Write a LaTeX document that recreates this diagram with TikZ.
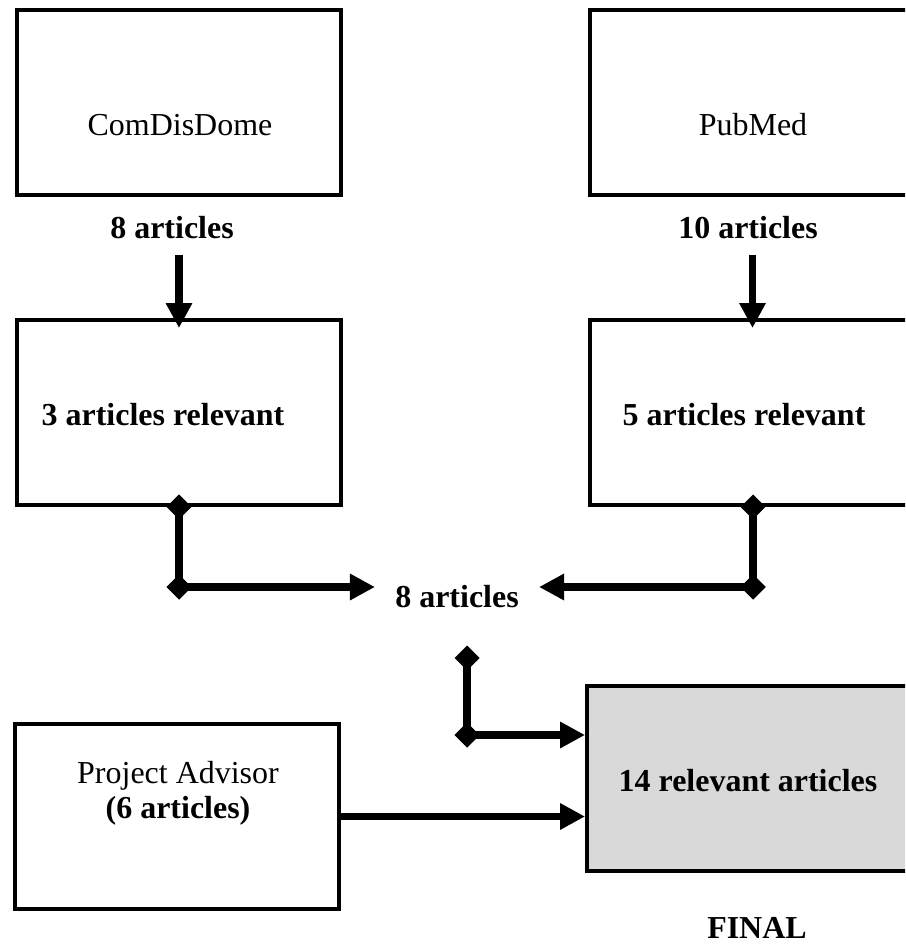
\documentclass[tikz,border=0pt]{standalone}
\usepackage{fontspec}
\setmainfont{Liberation Serif}
\usepackage{tikz}
\usetikzlibrary{arrows.meta}
\definecolor{finalgray}{HTML}{D9D9D9}
\tikzset{
	boxstyle/.style={rectangle,draw=black,line width=0.08cm,fill=white,minimum width=6.48cm,minimum height=3.7cm},
	finalstyle/.style={boxstyle,fill=finalgray,minimum width=6.56cm},
	textstyle/.style={inner sep=0pt,font=\fontsize{18.2}{20}\selectfont},
	boldstyle/.style={inner sep=0pt,font=\fontsize{18.2}{20}\selectfont\bfseries},
	linkstyle/.style={line width=0.155cm,-{Triangle[length=0.5cm,width=0.5cm]}},
	jointstyle/.style={line width=0.155cm,{Diamond[length=0.5cm,width=0.5cm]}-{Diamond[length=0.5cm,width=0.5cm]},shorten <=-0.25cm,shorten >=-0.25cm},
	jointlinkstyle/.style={line width=0.155cm,{Diamond[length=0.5cm,width=0.5cm]}-{Triangle[length=0.5cm,width=0.5cm]},shorten <=-0.25cm}
}
\begin{document}
\begin{tikzpicture}[x=0.02cm,y=-0.02cm]
		\useasboundingbox (0,0) rectangle (905,945);
		\clip (0,0) rectangle (905,945);
		\node[boxstyle] (src1) at (179,102.5) {};
		\node[boxstyle,minimum width=6.5cm] (src2) at (752.5,102.5) {};
		\node[boxstyle] (rel1) at (179,412.5) {};
		\node[boxstyle,minimum width=6.5cm] (rel2) at (752.5,412.5) {};
		\node[boxstyle] (adv) at (177,816.5) {};
		\node[finalstyle] (fin) at (751,778.5) {};
		\node[textstyle] (src1txt) at (180,125) {ComDisDome};
		\node[textstyle] (src2txt) at (753,125) {PubMed};
		\node[boldstyle] (cnt1) at (172,228) {8 articles};
		\node[boldstyle] (cnt2) at (748,228) {10 articles};
		\node[boldstyle] (rel1txt) at (163,415) {3 articles relevant};
		\node[boldstyle] (rel2txt) at (744,415) {5 articles relevant};
		\node[boldstyle] (merge) at (457,597) {8 articles};
		\node[boldstyle] (fintxt) at (748,781) {14 relevant articles};
		\node[textstyle,align=center] (advtxt) at (178,793) {Project Advisor\\\textbf{(6 articles)}};
		\node[boldstyle] (finlbl) at (757,928) {FINAL};
		\coordinate (j1) at (179,587);
		\coordinate (j2) at (753,587);
		\coordinate (j3) at (467,658);
		\coordinate (j4) at (467,735);
		\draw[linkstyle,shorten <=0.3cm,shorten >=-0.2cm] (cnt1.south -| rel1.north) -- (rel1.north);
		\draw[linkstyle,shorten <=0.3cm,shorten >=-0.2cm] (cnt2.south -| rel2.north) -- (rel2.north);
		\draw[jointstyle] (rel1.south) -- (j1);
		\draw[jointstyle] (rel2.south -| j2) -- (j2);
		\draw[jointlinkstyle,shorten >=0.4cm] (j1) -- (j1 -| merge.west);
		\draw[jointlinkstyle,shorten >=0.4cm] (j2) -- (j2 -| merge.east);
		\draw[jointstyle] (j3) -- (j4);
		\draw[jointlinkstyle] (j4) -- (j4 -| fin.west);
		\draw[linkstyle] (adv.east) -- (adv.east -| fin.west);
\end{tikzpicture}
\end{document}
